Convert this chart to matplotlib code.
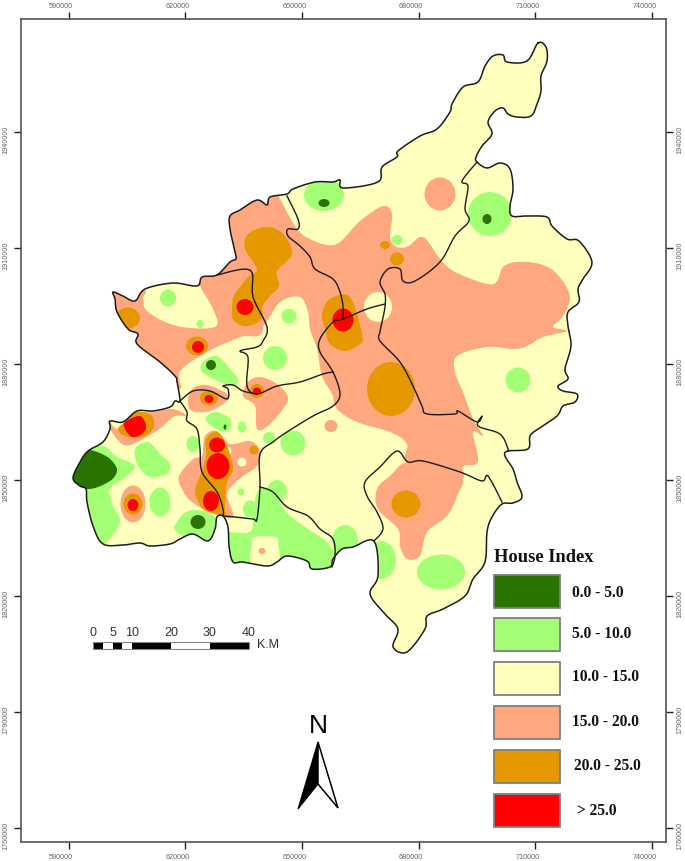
import numpy as np
import matplotlib
matplotlib.use("Agg")
import matplotlib.pyplot as plt
from matplotlib.patches import Polygon, Ellipse, Rectangle

W, H = 685, 862
PXX, PYY = 0.003889, 0.003866

def mx(px):
    return 590000 + (np.asarray(px, float) - 68.5) / PXX
def my(py):
    return 1940000 - (np.asarray(py, float) - 132.7) / PYY
def mp(pts):
    a = np.asarray(pts, float)
    return np.column_stack([mx(a[:, 0]), my(a[:, 1])])

def spline(pts, closed=True, n=6):
    """Catmull-Rom through the digitised vertices, to round their corners."""
    p = np.asarray(pts, float)
    m = len(p)
    out = []
    rng = range(m) if closed else range(m-1)
    ts = np.linspace(0, 1, n, endpoint=False)[:, None]
    for i in rng:
        if closed:
            p0, p1, p2, p3 = p[(i-1) % m], p[i], p[(i+1) % m], p[(i+2) % m]
        else:
            p0, p1, p2, p3 = p[max(i-1, 0)], p[i], p[i+1], p[min(i+2, m-1)]
        out.append(0.5*((2*p1) + (-p0+p2)*ts + (2*p0-5*p1+4*p2-p3)*ts**2 + (-p0+3*p1-3*p2+p3)*ts**3))
    out = np.vstack(out)
    return out if closed else np.vstack([out, p[-1]])

# ---- digitised geometry ----
outline = [(538,44),(546,48),(547,62),(541,77),(541,92),(537,105),(531,117),(517,118),(508,115),(503,109),
 (495,112),(488,123),(492,135),(482,147),(476,158),(477,163),(487,169),(500,164),(510,170),(513,190),(510,207),
 (512,217),(527,217),(547,218),(552,227),(567,240),(579,242),(592,263),(583,280),(578,290),(579,303),(568,313),
 (568,327),(571,347),(565,370),(568,380),(558,387),(563,392),(577,395),(575,403),(563,407),(557,417),(538,430),
 (530,437),(528,450),(508,452),(505,457),(513,470),
 (517,483),(522,498),(513,504),(502,505),(492,518),(487,533),(485,563),(473,580),(465,597),(443,610),(427,617),
 (425,630),(407,653),(393,648),(398,630),(385,615),(370,595),(378,577),(374,542),(353,548),(342,550),(333,560),
 (330,568),(312,570),(307,562),(287,557),(277,563),(267,567),(243,563),(233,563),(229,547),(228,528),(223,517),
 (217,518),(215,530),(208,542),(193,535),(180,540),(170,545),(150,547),(140,544),(123,546),(103,545),(93,527),
 (87,503),(86,490),(80,487),(73,479),(80,463),(88,452),(103,443),(110,430),(110,422),(123,423),(137,412),(153,412),
 (170,408),(175,402),(180,402),(177,383),(175,377),(160,363),(137,345),(138,335),(128,330),(117,313),(115,300),
 (113,293),(123,297),(135,302),(145,290),(173,284),(197,287),(202,278),(217,276),(230,263),(236,260),(235,253),
 (230,230),(230,217),(240,211),(257,201),(267,206),(270,198),(287,195),(293,190),(315,183),(333,183),(340,181),
 (343,189),(378,183),(382,168),(397,158),(398,152),(420,137),(437,130),(450,113),(452,105),(463,88),(478,83),
 (485,67),(493,57),(503,56),(507,63),(527,62)]

borders = [
 [(287,197),(298,220),(298,230),(288,230),(288,237),(300,247),(310,258),(315,270),(333,280),(340,293),(343,307),(343,320)],
 [(477,163),(462,182),(468,187),(465,210),(469,222),(455,237),(440,263),(415,282),(403,282),(400,270),(388,270),(380,283),
  (385,295),(385,308),(382,323),(380,333),(380,342),(400,363),(413,387),(422,407),(427,415),(455,415),(458,412),(477,423),
  (482,417),(478,427),(500,435),(508,450),(508,452)],
 [(385,305),(367,310),(343,320),(333,323),(320,340),(320,353),(333,373),(340,395),(333,407),(313,417),(287,433),(273,443),
  (260,455),(260,488),(257,520),(253,520),(235,518),(223,517)],
 [(260,488),(273,493),(287,508),(308,517),(320,530),(333,540),(335,557),(332,568)],
 [(217,276),(250,271),(253,298),(267,328),(263,342),(257,348),(240,352),(248,358),(247,387),(257,395),(277,387),(300,383),
  (323,375),(333,373)],
 [(180,402),(193,392),(210,392),(227,400),(228,390),(223,387),(233,386),(243,392),(257,395)],
 [(180,402),(187,413),(187,422),(197,430),(200,450),(202,473),(217,493),(223,510),(223,517)],
 [(374,542),(383,530),(377,513),(367,497),(365,483),(380,468),(397,452),(408,463),(423,462),(460,473),(482,482),(488,477),(502,503)],
]

salmon_polys = [
 [(225,190),(275,190),(280,200),(297,230),(310,240),(327,246),(340,243),(360,222),(383,207),(392,215),(390,237),(395,247),
  (407,248),(423,238),(440,260),(455,273),(487,285),(497,282),(503,268),(517,263),(540,265),(557,275),(570,297),(563,317),
  (553,328),(567,332),(543,338),(527,347),(513,350),(487,348),(457,357),(455,373),(463,393),(473,420),(483,437),(473,433),(478,463),(463,467),
  (460,480),(408,465),(407,445),(390,433),(357,423),(337,410),(332,395),(322,377),(317,350),(310,330),(308,313),(300,298),
  (280,303),(263,327),(250,320),(240,280),(225,270)],
 [(100,280),(143,290),(143,300),(148,313),(177,327),(215,328),(213,310),(200,287),(195,270),(250,260),(263,330),(240,338),
  (207,353),(180,372),(178,390),(130,360)],
 [(460,477),(457,497),(447,517),(427,533),(420,557),(407,560),(400,547),(398,530),(378,510),(377,490),(390,477),(410,463)],
 [(188,402),(192,390),(207,386),(227,395),(227,402),(210,412),(192,412)],
 [(248,383),(260,378),(277,385),(288,398),(283,410),(268,427),(257,430),(255,407),(243,397)],
 [(118,430),(138,415),(153,413),(173,410),(187,417),(175,417),(163,427),(155,433),(133,445),(122,445),(110,430),(108,420)],
 [(179,477),(193,460),(202,457),(205,437),(217,432),(230,445),(250,442),(260,452),(257,467),(243,477),(232,487),(227,497),
  (233,518),(213,515),(192,503),(182,490)],
]
salmon_blobs = [(440,195,31,33),(331,427,13,12),(133,505,25,37),(262,552,7,6)]

orange_polys = [
 [(267,228),(283,235),(292,255),(277,272),(279,287),(270,297),(262,308),(263,318),(255,325),(243,327),(233,320),(232,308),
  (235,295),(248,278),(257,270),(245,250),(248,235)],
 [(330,300),(350,298),(362,335),(360,345),(345,352),(330,345),(325,330),(322,315)],
 [(137,413),(152,417),(153,430),(142,438),(125,437),(118,430),(125,423)],
 [(206,440),(217,433),(227,447),(233,470),(227,483),(225,510),(227,517),(217,515),(203,510),(195,493),(200,477),(206,457)],
]
orange_blobs = [(391,390,48,54),(406,505,29,27),(385,246,10,8),(397,260,14,13),(128,319,24,21),(197,347,22,19),
 (209,399,18,15),(257,392,14,14),(133,505,19,21),(254,451,9,9)]

red_polys = [[(125,423),(140,417),(146,427),(142,435),(132,438),(125,430)]]
red_blobs = [(245,308,17,16),(343,321,21,23),(198,348,12,12),(209,400,9,8),(257,392,8,7),(133,506,11,12),
 (217,446,16,15),(218,467,23,26),(211,502,16,20)]

green_polys = [
 [(203,363),(217,357),(230,370),(238,380),(235,387),(220,383),(202,373)],
 [(207,417),(217,413),(230,420),(230,430),(220,432),(207,423)],
 [(80,452),(103,447),(117,458),(135,467),(123,480),(110,490),(113,507),(120,523),(107,543),(90,550),(70,503),(70,483)],
 [(135,450),(148,443),(160,455),(170,465),(167,475),(150,478),(138,467)],
 [(177,523),(188,512),(207,513),(217,523),(210,550),(177,533)],
 [(253,515),(258,492),(272,493),(288,515),(308,530),(330,547),(338,580),(220,580),(220,537),(250,533)],
]
green_blobs = [(490,215,44,44),(324,196,40,32),(397,241,11,10),(518,381,25,25),(441,573,48,35),(381,561,30,38),
 (345,542,26,32),(293,444,25,25),(168,299,16,17),(200,325,7,8),(289,317,15,15),(275,359,24,24),(242,428,9,11),
 (269,439,12,12),(193,445,13,16),(160,503,21,29),(241,493,7,7),(250,510,14,17),(277,492,20,22)]

cream_polys = [[(254,538),(276,538),(278,545),(278,565),(252,565),(252,545)]]
cream_blobs = [(378,308,28,30),(227,452,9,9),(242,463,9,9)]

dark_polys = [[(78,452),(90,451),(104,456),(113,463),(117,472),(110,482),(90,490),(68,486),(66,470)]]
dark_blobs = [(487,220,9,10),(324,204,11,8),(211,366,10,10),(225,428,3,5),(198,523,15,14)]

legend_labels = ['0.0 - 5.0','5.0 - 10.0','10.0 - 15.0','15.0 - 20.0','20.0 - 25.0','> 25.0']
legend_colors = ['#2B7300','#A3FF73','#FFFFBE','#FFA77F','#E69800','#FF0000']
x_ticks = [590000,620000,650000,680000,710000,740000]
y_ticks = [1940000,1910000,1880000,1850000,1820000,1790000,1760000]
scale_km = [0,2.5,5,7.5,10,20,30,40]
scale_labels = [0,5,10,20,30,40]

DARK, GREEN, CREAM, SALMON, ORANGE, RED = legend_colors

# ---- figure ----
L, R, T, B = 20.7, 665.7, 19.7, 842.7
fig = plt.figure(figsize=(W/100, H/100), dpi=100)
ax = fig.add_axes([L/W, 1-B/H, (R-L)/W, (B-T)/H])
ax.set_xlim(mx(L), mx(R))
ax.set_ylim(my(B), my(T))
ax.set_aspect('auto')
for s in ax.spines.values():
    s.set_color('#555555'); s.set_linewidth(1.2)
ax.set_xticks(x_ticks); ax.set_yticks(y_ticks)
ax.tick_params(length=5, width=1.0, color='#222222', top=True, right=True, bottom=True, left=True,
               labelbottom=False, labelleft=False)

serif = ['Liberation Serif']
sans = ['Liberation Sans']
tick_c = '#666666'
for t in x_ticks:
    for yy in (6, 858):
        ax.annotate(str(t), xy=(t, 0), xycoords=('data', 'axes fraction'),
                    xytext=(-7.5*0.72, (B-yy)*0.72), textcoords='offset points',
                    ha='center', va='center', fontsize=5.2, color=tick_c, family=sans, annotation_clip=False)
for t in y_ticks:
    for xx in (6, 680):
        ax.annotate(str(t), xy=(0, t), xycoords=('axes fraction', 'data'),
                    xytext=((xx-L)*0.72, -7*0.72), textcoords='offset points', rotation=90,
                    ha='center', va='center', fontsize=5.2, color=tick_c, family=sans, annotation_clip=False)

# ---- map ----
outline_s = spline(outline)
clip = Polygon(mp(outline_s), closed=True, transform=ax.transData, facecolor=CREAM, edgecolor='none', zorder=1)
ax.add_patch(clip)

def layer(polys, blobs, color, z):
    for p in polys:
        a = Polygon(mp(spline(p)), closed=True, facecolor=color, edgecolor='none', zorder=z)
        ax.add_patch(a); a.set_clip_path(clip)
    for (cx, cy, w, h) in blobs:
        e = Ellipse((mx(cx), my(cy)), w/PXX, h/PYY, facecolor=color, edgecolor='none', zorder=z)
        ax.add_patch(e); e.set_clip_path(clip)

layer(salmon_polys, salmon_blobs[:3], SALMON, 2)
layer(green_polys, green_blobs, GREEN, 3)
layer(cream_polys, cream_blobs, CREAM, 4)
layer([], salmon_blobs[3:], SALMON, 4.5)
layer(orange_polys, orange_blobs, ORANGE, 5)
layer(red_polys, red_blobs, RED, 6)
layer(dark_polys, dark_blobs, DARK, 7)

for b in borders:
    a = mp(spline(b, closed=False))
    ax.plot(a[:, 0], a[:, 1], color='#1c1c1c', lw=1.0, zorder=9, solid_joinstyle='round')
o = mp(np.vstack([outline_s, outline_s[:1]]))
ax.plot(o[:, 0], o[:, 1], color='#1c1c1c', lw=1.1, zorder=9, solid_joinstyle='round')

# ---- legend ----
box_top = [576, 619, 663, 707, 751, 795]
label_x = [572, 572, 572, 572, 574, 577]
label_y = [593, 634, 677, 722, 766, 811]
ax.text(mx(494), my(558), 'House Index', fontsize=13.3, fontweight='bold', family=serif, color='#111111', va='center')
for top, c, lab, lx, ly in zip(box_top, legend_colors, legend_labels, label_x, label_y):
    ax.add_patch(Rectangle((mx(494), my(top+33)), 66/PXX, 33/PYY, facecolor=c, edgecolor='#7f7f7f', lw=1.3, zorder=10))
    ax.text(mx(lx), my(ly), lab, fontsize=11.2, fontweight='bold', family=serif, color='#111111', va='center', zorder=11)

# ---- scale bar (map units: 1 km = 1000 m) ----
x0 = mx(93.3); ytop, ybot = my(643), my(650)
for i in range(len(scale_km)-1):
    a, b = scale_km[i]*1000, scale_km[i+1]*1000
    ax.add_patch(Rectangle((x0+a, ybot), b-a, ytop-ybot, facecolor='black' if i % 2 == 0 else 'white',
                           edgecolor='none', zorder=10))
ax.add_patch(Rectangle((x0, ybot), 40000, ytop-ybot, facecolor='none', edgecolor='#888888', lw=0.8, zorder=11))
for k in scale_labels:
    ax.text(x0+k*1000, my(633), str(k), fontsize=9, family=sans, color='#333333', ha='center', va='center')
ax.text(mx(257), my(645), 'K.M', fontsize=9, family=sans, color='#333333', ha='left', va='center')

# ---- north arrow ----
ax.add_patch(Polygon(mp([(318,743),(298,810),(318,785)]), closed=True, facecolor='black', edgecolor='black', lw=0.8, zorder=10))
ax.add_patch(Polygon(mp([(318,743),(338,809),(318,785)]), closed=True, facecolor='white', edgecolor='black', lw=1.1, zorder=10))
ax.text(mx(318), my(726), 'N', fontsize=19, family=sans, color='black', ha='center', va='center')

fig.savefig('out.png', dpi=100, facecolor='white')
